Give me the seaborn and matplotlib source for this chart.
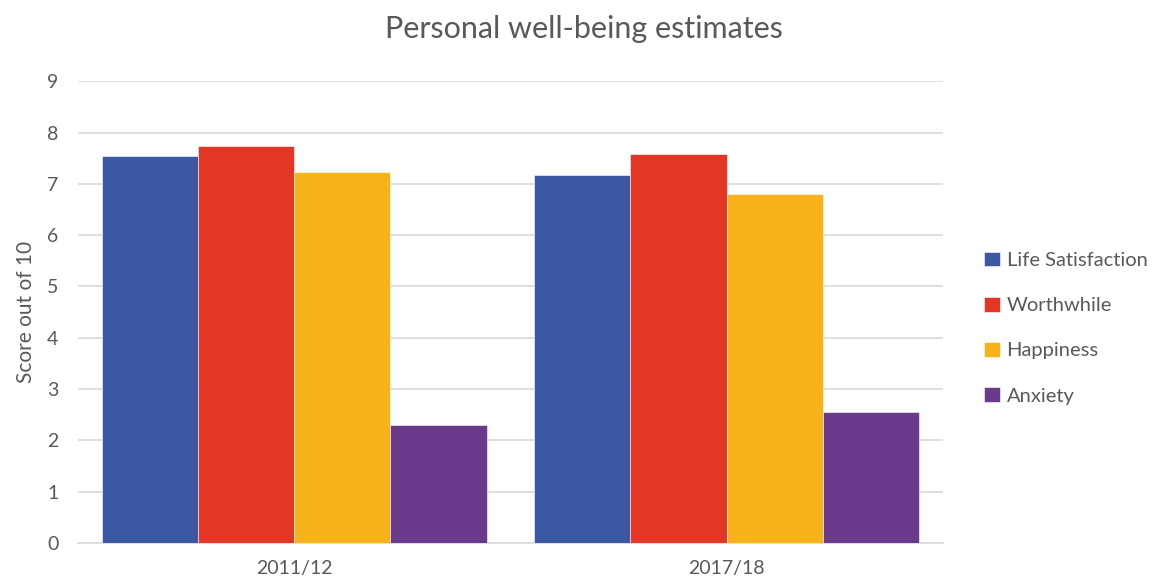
import pandas as pd
import matplotlib.pyplot as plt
import seaborn as sns

# values
years = ["2011/12", "2017/18"]
measures = ["Life Satisfaction", "Worthwhile", "Happiness", "Anxiety"]
life_satisfaction = [7.55, 7.18]
worthwhile = [7.74, 7.58]
happiness = [7.24, 6.81]
anxiety = [2.29, 2.56]

colors = ["#3C58A3", "#E33624", "#F8B31A", "#6A3B8C"]

df = pd.DataFrame({
    "year": years * 4,
    "measure": [m for m in measures for _ in years],
    "score": life_satisfaction + worthwhile + happiness + anxiety,
})

sns.set_theme(style="white")
plt.rcParams["font.family"] = ["Lato", "DejaVu Sans"]
text_grey = "#595959"

fig = plt.figure(figsize=(11.67, 5.86), dpi=100)
ax = fig.add_axes([0.0668, 0.0734, 0.741, 0.788])

sns.barplot(data=df, x="year", y="score", hue="measure", hue_order=measures,
            palette=colors, width=0.89, gap=0, saturation=1, ax=ax, zorder=3,
            edgecolor="white", linewidth=0.4)

ax.set_ylim(0, 9)
ax.set_yticks(range(0, 10))
ax.grid(axis="y", color="#D9D9D9", linewidth=1.2, zorder=0)
for s in ["top", "right", "left"]:
    ax.spines[s].set_visible(False)
ax.spines["bottom"].set_color("#D9D9D9")
ax.spines["bottom"].set_linewidth(1.2)
ax.tick_params(axis="both", length=0, colors=text_grey, labelsize=14)
ax.tick_params(axis="y", pad=14)
ax.tick_params(axis="x", pad=12)
ax.set_xlabel("")
ax.set_ylabel("Score out of 10", fontsize=15, color=text_grey, labelpad=8)

fig.suptitle("Personal well-being estimates", fontsize=22, color=text_grey, y=0.975)

handles, labels = ax.get_legend_handles_labels()
ax.get_legend().remove()
fig.legend(handles, labels, loc="center left", bbox_to_anchor=(0.828, 0.44),
           frameon=False, fontsize=14.5, labelcolor=text_grey, handlelength=0.75,
           handleheight=0.75, handletextpad=0.35, labelspacing=1.38)

fig.savefig("out.png", dpi=100)
